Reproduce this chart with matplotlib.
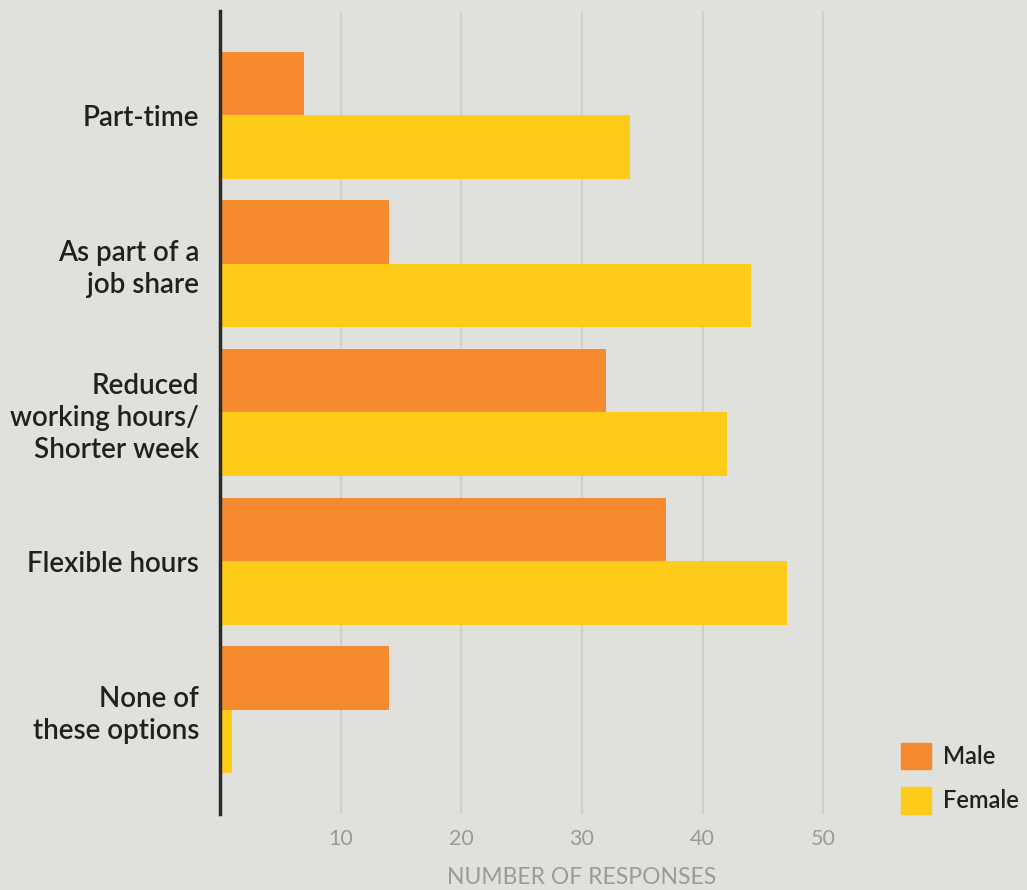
import matplotlib.pyplot as plt
import numpy as np
from matplotlib.patches import Patch

categories = ["Part-time", "As part of a\njob share", "Reduced\nworking hours/\nShorter week",
              "Flexible hours", "None of\nthese options"]
male = [7, 14, 32, 37, 14]
female = [34, 44, 42, 47, 1]
x_ticks = [10, 20, 30, 40, 50]

BG = "#e0e1dc"
ORANGE = "#f68a2e"
YELLOW = "#fecb18"
TEXT = "#231f20"
GREY = "#9a9a96"

plt.rcParams['font.family'] = ['Lato', 'DejaVu Sans']

fig = plt.figure(figsize=(10.27, 8.9), dpi=100, facecolor=BG)
ax = fig.add_axes([220 / 1027, 76 / 890, 724 / 1027, 803 / 890])
ax.set_facecolor(BG)

y = np.arange(len(categories))
h = 0.427
ax.barh(y - h / 2, male, height=h, color=ORANGE, label="Male", zorder=3)
ax.barh(y + h / 2, female, height=h, color=YELLOW, label="Female", zorder=3)

ax.set_xlim(0, 60)
ax.set_ylim(4.7, -0.7)

ax.set_xticks(x_ticks)
ax.set_xticklabels([str(t) for t in x_ticks], color=GREY, fontsize=15.5)
ax.set_yticks(y)
ax.set_yticklabels(categories, color=TEXT, fontsize=20, ha="right", linespacing=1.28,
                   fontweight="semibold")
ax.tick_params(axis="both", length=0)
ax.tick_params(axis="x", pad=11)
ax.tick_params(axis="y", pad=15)

ax.xaxis.grid(True, color="#cfd0cb", linewidth=1.6, zorder=0)
ax.yaxis.grid(False)
for side in ["top", "right", "bottom"]:
    ax.spines[side].set_visible(False)
ax.spines["left"].set_color("#2b2b2b")
ax.spines["left"].set_linewidth(2.5)
ax.spines["left"].set_zorder(4)

ax.set_xlabel("NUMBER OF RESPONSES", color=GREY, fontsize=16.5, labelpad=13)

handles = [Patch(color=ORANGE, label="Male"), Patch(color=YELLOW, label="Female")]
fig.legend(handles=handles, loc="lower left", bbox_to_anchor=(880 / 1027, 55 / 890),
           frameon=False, prop={"size": 17, "weight": "semibold"}, handlelength=1.25,
           handleheight=1.36, handletextpad=0.5, labelspacing=0.75, labelcolor=TEXT)

fig.savefig("out.png", dpi=100, facecolor=BG)
